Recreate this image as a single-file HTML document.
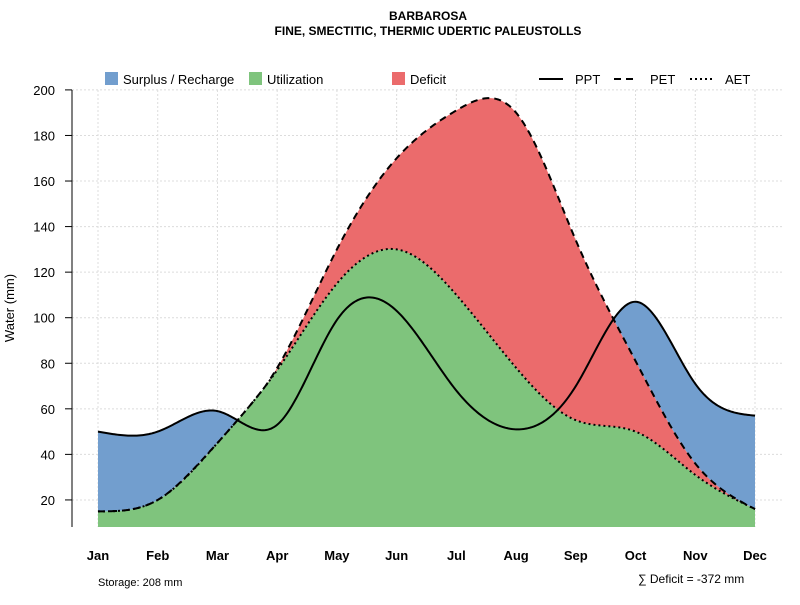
<!DOCTYPE html>
<html><head><meta charset="utf-8"><style>
body{margin:0;background:#fff;}
svg text{font-family:"Liberation Sans",sans-serif;}
</style></head><body>
<svg id="c" width="800" height="600" xmlns="http://www.w3.org/2000/svg">
<text x="428" y="20" text-anchor="middle" font-size="12" font-weight="bold">BARBAROSA</text>
<text x="428" y="35" text-anchor="middle" font-size="12" font-weight="bold">FINE, SMECTITIC, THERMIC UDERTIC PALEUSTOLLS</text>
<g>
<rect x="105" y="72" width="13" height="13" fill="#729ECE"/>
<text x="123" y="84" font-size="13">Surplus / Recharge</text>
<rect x="249" y="72" width="13" height="13" fill="#7FC47D"/>
<text x="267" y="84" font-size="13">Utilization</text>
<rect x="392" y="72" width="13" height="13" fill="#EB6B6C"/>
<text x="410" y="84" font-size="13">Deficit</text>
<line x1="539" y1="79" x2="563" y2="79" stroke="#000" stroke-width="2"/>
<text x="575" y="84" font-size="13">PPT</text>
<line x1="614" y1="79" x2="638" y2="79" stroke="#000" stroke-width="2" stroke-dasharray="7,5"/>
<text x="650" y="84" font-size="13">PET</text>
<line x1="690" y1="79" x2="714" y2="79" stroke="#000" stroke-width="2" stroke-dasharray="2,3"/>
<text x="725" y="84" font-size="13">AET</text>
</g>
<g id="grid"></g><g id="fills"></g><g id="lines"></g><g id="axes"></g>
<text x="14" y="308" font-size="13" text-anchor="middle" transform="rotate(-90 14 308)">Water (mm)</text>
<text x="98" y="586" font-size="11">Storage: 208 mm</text>
<text x="638" y="583" font-size="12">∑ Deficit = -372 mm</text>
</svg>
<script>
const months=["Jan","Feb","Mar","Apr","May","Jun","Jul","Aug","Sep","Oct","Nov","Dec"];
const ppt=[50,50,59,53,99,103,68,51,70,107,71,57];
const pet=[15,20,45,78,130,170,191,190,134,81,36,16];
const aet=[15,20,45,77,115,130,110,78,55,50,31,16];
const yTicks=[20,40,60,80,100,120,140,160,180,200];
const NS="http://www.w3.org/2000/svg";
const X=i=>98+i*(755-98)/11;
const Y=v=>545.5-v*2.278;
function mk(t,a,p){const e=document.createElementNS(NS,t);for(const k in a)e.setAttribute(k,a[k]);p.appendChild(e);return e;}
function spline(y){const n=y.length,m=new Array(n).fill(0);
 const c=new Array(n).fill(0),d=new Array(n).fill(0);
 for(let i=1;i<n-1;i++){const r=6*(y[i+1]-2*y[i]+y[i-1]);const w=4-(i>1?c[i-1]:0);c[i]=1/w;d[i]=(r-(i>1?d[i-1]:0))/w;}
 for(let i=n-2;i>0;i--){m[i]=d[i]-c[i]*m[i+1];}
 return t=>{let i=Math.min(Math.floor(t),n-2);const u=t-i;return (1-u)*y[i]+u*y[i+1]+((Math.pow(1-u,3)-(1-u))*m[i]+(Math.pow(u,3)-u)*m[i+1])/6;};}
const fP=spline(ppt),fE=spline(pet),fA=spline(aet);
const S=[];for(let k=0;k<=440;k++){const t=k*11/440;S.push([t,fP(t),Math.max(fE(t),fA(t)),fA(t)]);}
const g=document.getElementById('grid'),f=document.getElementById('fills'),l=document.getElementById('lines'),ax=document.getElementById('axes');
yTicks.forEach(v=>{const el=mk('line',{x1:72,x2:783,y1:Y(v),y2:Y(v),stroke:'#dcdcdc','stroke-dasharray':'2,2'},g);
});
months.forEach((m,i)=>{const el=mk('line',{x1:X(i),x2:X(i),y1:90,y2:527,stroke:'#dcdcdc','stroke-dasharray':'2,2'},g);
});
const pts=(fn)=>S.map(s=>X(s[0]).toFixed(2)+','+Y(fn(s)).toFixed(2));
function poly(top,bot,fill,name){const p=pts(top).concat(pts(bot).reverse()).join(' ');const el=mk('polygon',{points:p,fill:fill},f);
}
poly(s=>s[3],s=>0,'#7FC47D','utilization-area');
poly(s=>s[2],s=>s[3],'#EB6B6C','deficit-area');
poly(s=>Math.max(s[1],s[2]),s=>s[2],'#729ECE','surplus-area');
function line(fn,dash,name){const el=mk('polyline',{points:pts(fn).join(' '),fill:'none',stroke:'#000','stroke-width':2,'stroke-dasharray':dash},l);
}
line(s=>s[1],'none','ppt-line');line(s=>s[2],'7,5','pet-line');line(s=>s[3],'2,3','aet-line');
const cover=mk('rect',{x:72,y:527,width:720,height:30,fill:'#fff'},f);

const ya=mk('line',{x1:72,x2:72,y1:90,y2:527,stroke:'#000'},ax);
yTicks.forEach(v=>{const t=mk('line',{x1:65,x2:72,y1:Y(v),y2:Y(v),stroke:'#000'},ax);
const tx=mk('text',{x:55,y:Y(v)+5,'text-anchor':'end','font-size':13},ax);tx.textContent=v;});
months.forEach((m,i)=>{const tx=mk('text',{x:X(i),y:560,'text-anchor':'middle','font-size':13,'font-weight':'bold'},ax);tx.textContent=m;
});
</script>
</body></html>
